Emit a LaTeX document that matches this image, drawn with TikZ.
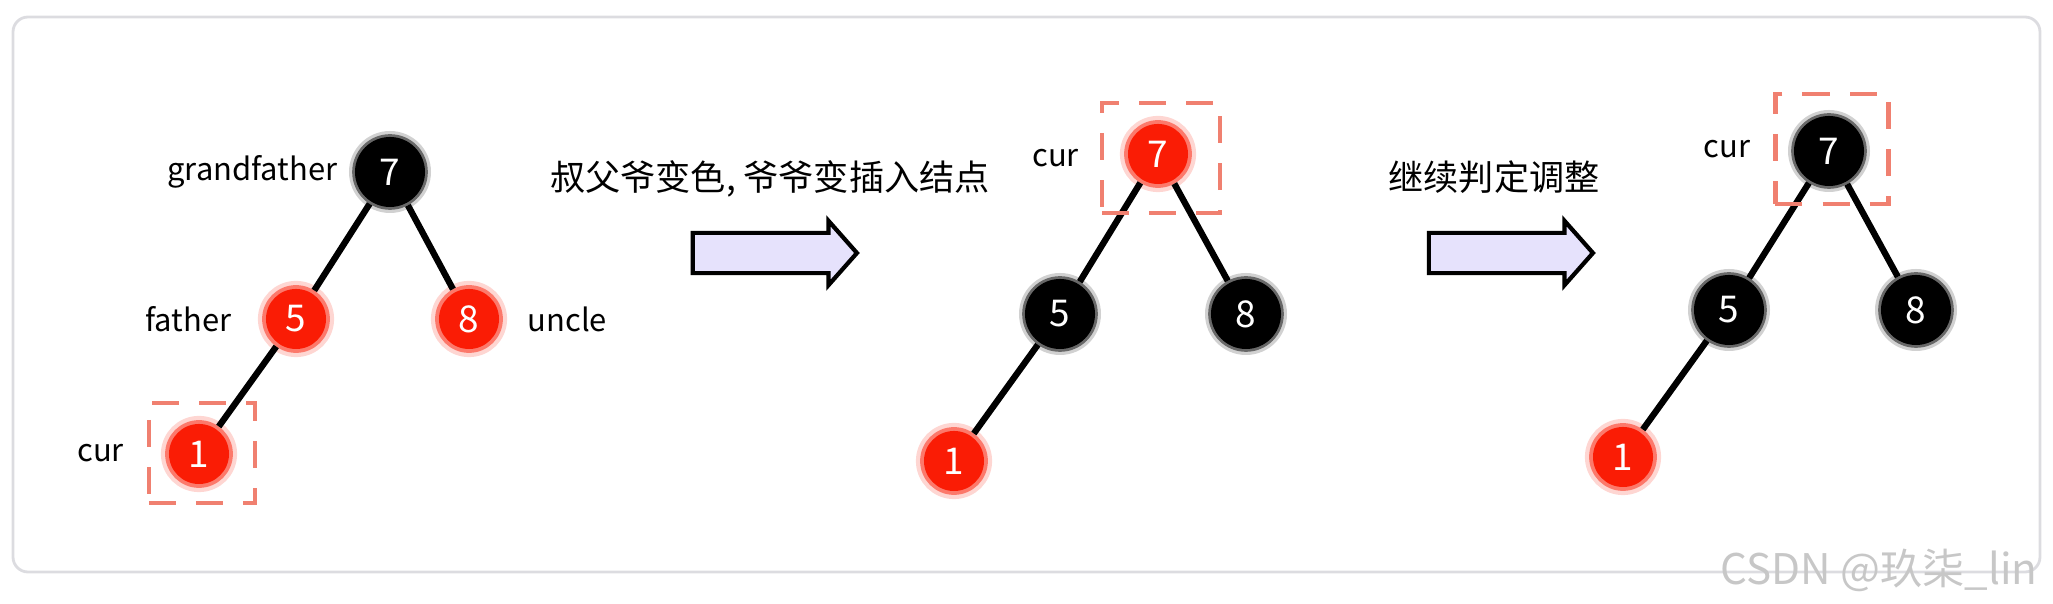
\documentclass[tikz,border=0pt]{standalone}
\usepackage{fontspec}
\setmainfont{Noto Sans CJK SC}
\usetikzlibrary{positioning,shapes.arrows}
\definecolor{nodered}{RGB}{250,28,5}
\definecolor{boxred}{RGB}{240,128,112}
\definecolor{arrowfill}{RGB}{230,226,252}
\definecolor{framegray}{RGB}{220,220,224}

\begin{document}
\begin{tikzpicture}[x=0.01cm,y=-0.01cm,font=\fontsize{8.8}{11}\selectfont,
  bnode/.style={circle,fill=black,draw=black,draw opacity=0.5,line width=1.6pt,minimum size=0.70cm,inner sep=0pt,text=white,font=\fontsize{10.5}{12}\selectfont,
    preaction={draw=black,draw opacity=0.18,line width=3.4pt}},
  rnode/.style={circle,fill=nodered,draw=nodered,draw opacity=0.5,line width=2.2pt,minimum size=0.6cm,inner sep=0pt,text=white,font=\fontsize{10.5}{12}\selectfont,
    preaction={draw=nodered,draw opacity=0.18,line width=4.6pt}},
  curbox/.style={draw=boxred,line width=1.3pt,dash pattern=on 0.27cm off 0.2cm,inner sep=0pt},
  lbl/.style={inner sep=0pt},
  bigarrow/.style={single arrow,draw=black,line width=1.2pt,fill=arrowfill,minimum height=1.64cm,minimum width=0.6cm,single arrow head extend=0.12cm,single arrow tip angle=97,inner xsep=0pt,inner ysep=0.18cm},
  link/.style={line width=1.8pt},
  caption/.style={font=\fontsize{10}{12}\selectfont}]

  \useasboundingbox (0,0) rectangle (2053,604);
  \draw[framegray,line width=0.8pt,rounded corners=0.15cm] (13,17) rectangle (2040,572);

  % before: red uncle
  \node[bnode] (g1) at (390,172) {7};
  \node[rnode] (f1) at (296,319) {5};
  \node[rnode] (u1) at (469,319) {8};
  \node[rnode] (c1) at (199,454) {1};
  \draw[link] (g1) -- (f1);
  \draw[link] (g1) -- (u1);
  \draw[link] (f1) -- (c1);
  \node[curbox,minimum width=1.06cm,minimum height=1.0cm] (b1) at (202,453) {};
  \node[lbl,left=0.14cm of g1] (lg1) {grandfather};
  \node[lbl,left=0.3cm of f1] (lf1) {father};
  \node[lbl,right=0.24cm of u1] (lu1) {uncle};
  \node[lbl,left=0.22cm of b1] (lc1) {cur};

  \node[caption] (t1) at (770,179) {叔父爷变色, 爷爷变插入结点};
  \node[bigarrow] (a1) at (766,253) {};

  % after recolouring
  \node[rnode] (g2) at (1158,154) {7};
  \node[bnode] (f2) at (1060,314) {5};
  \node[bnode] (u2) at (1246,314) {8};
  \node[rnode] (c2) at (954,461) {1};
  \draw[link] (g2) -- (f2);
  \draw[link] (g2) -- (u2);
  \draw[link] (f2) -- (c2);
  \node[curbox,minimum width=1.18cm,minimum height=1.1cm] (b2) at (1161,158) {};
  \node[lbl,left=0.2cm of b2] (lc2) {cur};

  \node[caption] (t2) at (1494,177) {继续判定调整};
  \node[bigarrow] (a2) at (1502,253) {};

  % root reached
  \node[bnode] (g3) at (1829,151) {7};
  \node[bnode] (f3) at (1729,310) {5};
  \node[bnode] (u3) at (1916,310) {8};
  \node[rnode] (c3) at (1623,457) {1};
  \draw[link] (g3) -- (f3);
  \draw[link] (g3) -- (u3);
  \draw[link] (f3) -- (c3);
  \node[curbox,minimum width=1.13cm,minimum height=1.1cm] (b3) at (1832,149) {};
  \node[lbl,left=0.22cm of b3] (lc3) {cur};

  \node[text=black!22,font=\fontsize{12}{14}\selectfont,anchor=east] (wm) at (2050,570) {CSDN @玖柒\_lin};
\end{tikzpicture}
\end{document}
